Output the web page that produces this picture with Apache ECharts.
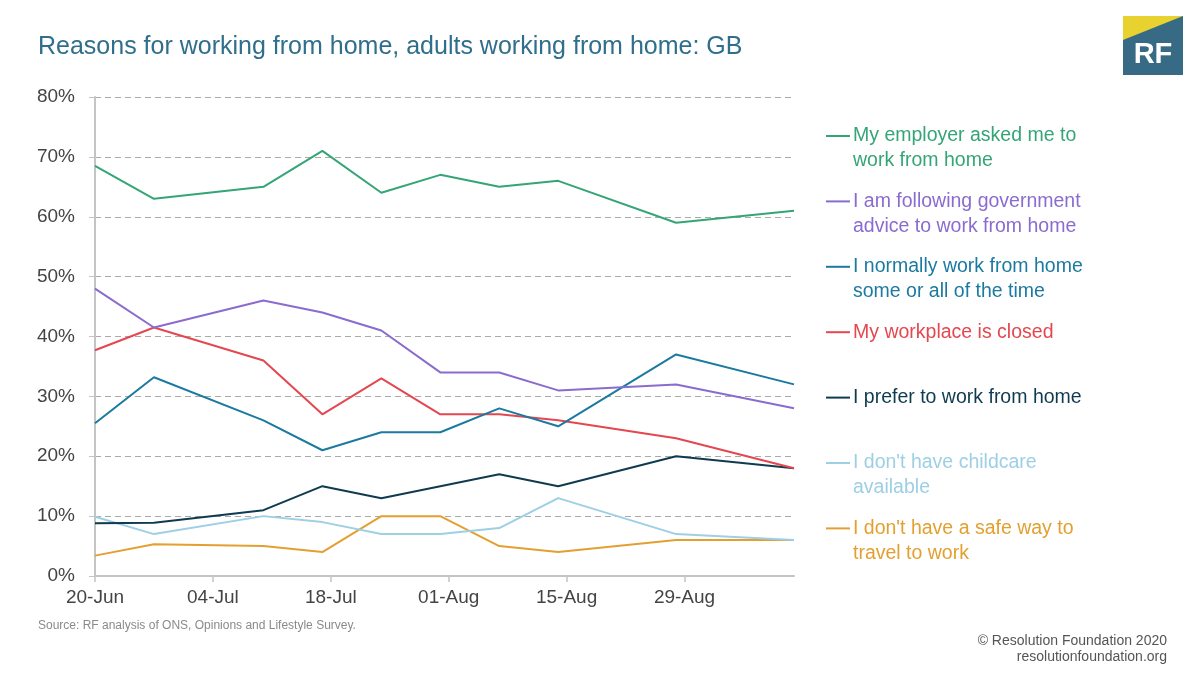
<!DOCTYPE html>
<html>
<head>
<meta charset="utf-8">
<script src="https://cdn.jsdelivr.net/npm/echarts@6/dist/echarts.min.js"></script>
<style>
html,body{margin:0;padding:0;background:#fff;}
#chart{width:1200px;height:675px;}
</style>
</head>
<body>
<div id="chart"></div>
<script>
// ---- Data ----
const surveyDates = ['2020-06-20','2020-06-27','2020-07-10','2020-07-17','2020-07-24','2020-07-31','2020-08-07','2020-08-14','2020-08-28','2020-09-11'];
const xTickLabels = ['20-Jun','04-Jul','18-Jul','01-Aug','15-Aug','29-Aug'];
const xTickDates = ['2020-06-20','2020-07-04','2020-07-18','2020-08-01','2020-08-15','2020-08-29'];
const axisStartDate = '2020-06-20';
const axisEndDate = '2020-09-11';

const seriesNames = [
  'My employer asked me to\nwork from home',
  'I am following government\nadvice to work from home',
  'I normally work from home\nsome or all of the time',
  'My workplace is closed',
  'I prefer to work from home',
  "I don't have childcare\navailable",
  "I don't have a safe way to\ntravel to work"
];
const employerAsked   = [68.5, 63, 65, 71, 64, 67, 65, 66, 59, 61];
const govAdvice       = [48, 41.5, 46, 44, 41, 34, 34, 31, 32, 28];
const normallyWFH     = [25.5, 33.2, 26, 21, 24, 24, 28, 25, 37, 32];
const workplaceClosed = [37.7, 41.5, 36, 27, 33, 27, 27, 26, 23, 18];
const preferWFH       = [8.8, 8.9, 11, 15, 13, 15, 17, 15, 20, 18];
const noChildcare     = [9.9, 7, 10, 9, 7, 7, 8, 13, 7, 6];
const noSafeTravel    = [3.4, 5.3, 5, 4, 10, 10, 5, 4, 6, 6];
const seriesValues = [employerAsked, govAdvice, normallyWFH, workplaceClosed, preferWFH, noChildcare, noSafeTravel];
const seriesColors = ['#35a577', '#8a6bcf', '#1b7aa0', '#e4474f', '#0f3a50', '#9dcfe5', '#e3a030'];

// ---- Helpers ----
const DAY = 86400000;
const t0 = Date.parse(axisStartDate + 'T00:00:00Z');
const dayOffset = d => Math.round((Date.parse(d + 'T00:00:00Z') - t0) / DAY);
const xs = surveyDates.map(dayOffset);
const tickVals = xTickDates.map(dayOffset);
const xMax = dayOffset(axisEndDate);

const chart = echarts.init(document.getElementById('chart'));

const series = seriesNames.map((name, i) => ({
  name: name,
  type: 'line',
  data: seriesValues[i].map((v, j) => [xs[j], v]),
  showSymbol: false,
  symbol: 'none',
  lineStyle: { color: seriesColors[i], width: 2 },
  itemStyle: { color: seriesColors[i] },
  z: 10 - i
}));

// Legend built as graphic elements (line + text)
const legendGraphics = [];
const legendTop = 136, legendStep = 65.4;
seriesNames.forEach((name, i) => {
  const y = legendTop + i * legendStep;
  legendGraphics.push({
    type: 'line', shape: { x1: 826, y1: y, x2: 850, y2: y },
    style: { stroke: seriesColors[i], lineWidth: 2 }
  });
  legendGraphics.push({
    type: 'text', left: 853, top: y - 12.5,
    style: { text: name, fill: seriesColors[i], font: '19.5px "Liberation Sans", Arial, sans-serif', lineHeight: 25, verticalAlign: 'top' }
  });
});

const option = {
  backgroundColor: '#ffffff',
  animation: false,
  title: {
    text: 'Reasons for working from home, adults working from home: GB',
    left: 38, top: 35, padding: 0,
    textStyle: { color: '#2f6f8c', fontSize: 25, fontWeight: 'normal', fontFamily: '"Liberation Sans", Arial, sans-serif' }
  },
  grid: { left: 95, right: 406, top: 97, bottom: 99 },
  xAxis: {
    type: 'value',
    min: 0, max: xMax,
    axisLine: { show: true, lineStyle: { color: '#c4c4c4', width: 2 } },
    axisTick: { show: true, length: 6, lineStyle: { color: '#c4c4c4', width: 1.5 }, customValues: tickVals },
    axisLabel: {
      customValues: tickVals,
      formatter: v => { const k = tickVals.indexOf(v); return k >= 0 ? xTickLabels[k] : ''; },
      color: '#444', fontSize: 19, margin: 12, fontFamily: '"Liberation Sans", Arial, sans-serif'
    },
    splitLine: { show: false }
  },
  yAxis: {
    type: 'value', min: 0, max: 80, interval: 10,
    axisLine: { show: true, lineStyle: { color: '#c4c4c4', width: 2 } },
    axisTick: { show: true, length: 6, lineStyle: { color: '#c4c4c4' } },
    axisLabel: { formatter: '{value}%', color: '#444', fontSize: 19, margin: 20, fontFamily: '"Liberation Sans", Arial, sans-serif' },
    splitLine: { show: true, lineStyle: { color: '#aaaaaa', type: [6, 4], width: 1.2 } }
  },
  series: series,
  graphic: [
    ...legendGraphics,
    { type: 'text', left: 38, top: 620,
      style: { text: 'Source: RF analysis of ONS, Opinions and Lifestyle Survey.', fill: '#8a8a8a', font: '12px "Liberation Sans", Arial, sans-serif' } },
    { type: 'text', x: 1167, y: 633,
      style: { text: '© Resolution Foundation 2020\nresolutionfoundation.org', fill: '#555', font: '14px "Liberation Sans", Arial, sans-serif', lineHeight: 16, align: 'right', verticalAlign: 'top' } },
    // RF logo
    { type: 'rect', shape: { x: 1123, y: 16, width: 60, height: 59 }, style: { fill: '#376a85' } },
    { type: 'polygon', shape: { points: [[1123, 16], [1183, 16], [1123, 40]] }, style: { fill: '#e8d22f' } },
    { type: 'text', x: 1153, y: 55,
      style: { text: 'RF', fill: '#ffffff', font: 'bold 29px "Liberation Sans", Arial, sans-serif', align: 'center', verticalAlign: 'middle' } }
  ]
};
chart.setOption(option);
</script>
</body>
</html>
